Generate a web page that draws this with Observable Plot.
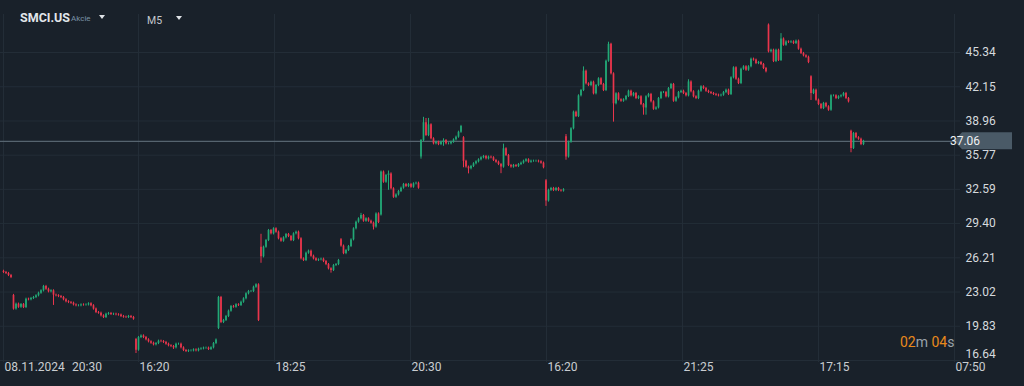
<!DOCTYPE html>
<html><head><meta charset="utf-8">
<script src="https://cdn.jsdelivr.net/npm/d3@7"></script>
<script src="https://cdn.jsdelivr.net/npm/@observablehq/plot@0.6"></script>
<style>
html,body{margin:0;padding:0;background:#19212a;}
#wrap{position:relative;width:1024px;height:386px;overflow:hidden;font-family:Roboto,sans-serif;}
#chart svg{display:block}
.ov{position:absolute;white-space:nowrap;line-height:1;}
.tri{position:absolute;width:0;height:0;border-left:3.5px solid transparent;border-right:3.5px solid transparent;border-top:4px solid #dfe3e7;}
</style></head><body>
<div id="wrap"><div id="chart"></div>
<div class="ov" style="left:20px;top:12px;font-weight:700;font-size:12.5px;color:#e2e6ea">SMCI.US</div>
<div class="ov" style="left:71px;top:15px;font-size:8px;color:#7b93a6">Akcie</div>
<div class="tri" style="left:99px;top:15px"></div>
<div class="ov" style="left:147px;top:15.5px;font-size:10.5px;color:#c4c8cc">M5</div>
<div class="tri" style="left:176px;top:15.5px"></div>
<div class="ov" style="left:900px;top:334.5px;font-size:14px;color:#e8891c">02<span style="color:#9aa3ab">m</span> 04<span style="color:#9aa3ab">s</span></div>
</div>
<script>
// closes per trading session (price, USD)
const s1 = [24.84, 24.75, 24.56, 24.37];
const s2 = [21.43, 21.89, 21.6, 21.85, 21.58, 22.35, 22.3, 22.42, 22.51, 22.67, 22.91, 23.13, 23.54, 23.28, 23.04, 23.13, 22.73, 22.67, 22.6, 22.51, 22.3, 22.11, 22.04, 21.98, 21.82, 21.74, 21.74, 21.82, 21.8, 21.82, 21.92, 21.74, 21.43, 21.11, 21.05, 20.8, 20.65, 20.95, 21.02, 20.93, 20.95, 20.9, 20.87, 20.74, 20.68, 20.65, 20.74, 20.65, 20.49];
const s3 = [17.6, 18.78, 18.93, 18.78, 18.57, 18.38, 18.25, 18.1, 18.22, 18.44, 18.4, 18.32, 18.16, 18.01, 17.94, 17.82, 18.16, 18.16, 17.82, 17.57, 17.48, 17.54, 17.54, 17.63, 17.54, 17.69, 17.73, 17.79, 17.79, 17.67, 17.82, 18.22, 18.55];
const s4 = [22.51, 20.18, 20.37, 20.74, 21.24, 21.67, 21.61, 21.83, 21.77, 22.07, 22.39, 22.85, 23.07, 23.07, 23.47, 23.69, 20.37];
const s5 = [26.3, 27.2, 27.82, 28.75, 28.44, 28.91, 28.6, 27.98, 27.76, 28.07, 28.38, 28.19, 27.82, 28.44, 28.6, 27.98, 26.11, 25.96, 26.64, 26.83, 26.36, 26.11, 25.96, 26.02, 26.08, 25.86, 25.58, 25.18, 25.03, 25.49, 25.58, 25.96];
const s6 = [27.3, 26.6, 26.89, 27.26, 27.88, 28.91, 29.53, 29.84, 30.15, 29.62, 29.84, 29.62, 29.44, 29.07, 30.3, 29.5];
const s7 = [34.2, 33.25, 33.88, 34.03, 32.64, 31.85, 32.07, 32.39, 32.7, 33.04, 32.85, 33.04, 32.79, 33.1, 33.16, 32.7];
const s8 = [37.13, 38.8, 37.6, 38.6, 37.3, 36.83, 36.98, 36.76, 36.98, 37.13, 36.83, 36.83, 36.98, 37.2, 37.45, 37.91, 38.45];
const s9 = [35.2, 34.66, 34.5, 34.72, 34.97, 35.15, 35.34, 35.53, 35.65, 35.43, 35.59, 35.53, 35.28, 35.12, 34.9, 34.66, 36.37, 35.74, 34.81, 34.66, 34.81, 34.72, 34.9, 35.03, 35.21, 35.34, 35.12, 35.21, 35.21, 35.21, 35.15, 35.03, 34.6];
const s10 = [31.5, 32.5, 32.67, 32.48, 32.67, 32.48, 32.43, 32.55];
const s11 = [35.6, 36.98, 38.23, 39.78, 39.38, 41.3, 41.8, 43.6, 42.42, 42.26, 42.57, 41.49, 42.26, 42.89, 42.36, 41.8, 44.53, 46.1, 43.35, 40.56, 41.49, 40.93, 40.8, 40.93, 41.24, 41.73, 41.3, 41.52, 41.05, 41.21, 40.49, 40.18, 41.21, 41.43, 40.74, 40.05, 40.18, 41.05, 41.61, 41.61, 41.21, 41.98, 42.36, 40.8, 41.12, 41.61, 41.73, 41.52, 41.3, 42.6, 41.68, 41.21, 41.05, 41.73, 42.14, 41.98, 41.73, 41.61, 41.52, 41.43, 41.36, 41.3, 41.36, 41.61, 41.83, 41.43, 42.98, 43.91, 42.85, 42.45, 43.78, 44.01, 43.69, 44.01, 44.72, 44.63, 44.31, 44.41, 44.22, 43.85, 43.54];
const s12 = [45.4, 45.55, 44.5, 45.55, 44.6, 46.6, 46.02, 46.33, 46.27, 46.33, 46.18, 46.4, 45.65, 45.25, 45.03, 44.9, 44.4];
const s13 = [41.52, 41.83, 40.9, 40.49, 40.12, 40.59, 40.28, 39.96, 41.3, 41.3, 41.05, 41.21, 41.3, 41.52, 41.05, 40.74];
const s14 = [36.4, 37.79, 37.4, 37.26, 36.76, 37.06];
const sessionOpens = [24.95, 22.7, 18.6, 19.62, 27.2, 27.9, 30.2, 35.6, 37.4, 33.4, 37.5, 47.9, 43.07, 38.0];
// notable wicks: [candle index, high, low]
const spikes = [[20,null,21.77],[53,null,17.29],[68,null,17.67],[103,28.4,25.7],[131,null,24.78],[143,30.35,null],[148,null,28.8],[150,30.4,null],[154,34.3,32.5],[167,null,35.4],[168,39.3,null],[169,39.19,null],[170,39.2,null],[176,37.3,36.6],[184,null,34.6],[186,null,34.03],[199,null,34.05],[200,36.8,null],[217,null,31.0],[225,37.7,35.3],[232,44.0,null],[242,46.3,null],[244,null,38.85],[256,null,39.5],[257,null,39.5],[274,42.8,null],[306,48.0,null],[308,null,44.4],[311,47.1,null],[323,null,40.87],[339,null,36.0]];
const yTicks = [45.34, 42.15, 38.96, 35.77, 32.59, 29.40, 26.21, 23.02, 19.83, 16.64];
const xTickIdx = [0, 27, 54, 108.4, 162.8, 217.2, 271.6, 326, 380.4];
const xTickLabels = ["08.11.2024", "20:30", "16:20", "18:25", "20:30", "16:20", "21:25", "17:15", "07:50"];

const sessions = [s1,s2,s3,s4,s5,s6,s7,s8,s9,s10,s11,s12,s13,s14];
const candles = [];
let idx = 0, prev = null;
sessions.forEach((s, k) => {
  s.forEach((c, j) => {
    const o = j === 0 ? sessionOpens[k] : prev;
    candles.push({i: idx, open: o, close: c, high: Math.max(o, c) + 0.1, low: Math.min(o, c) - 0.1});
    prev = c; idx++;
  });
});
for (const [k, h, l] of spikes) {
  if (h != null) candles[k].high = Math.max(candles[k].high, h);
  if (l != null) candles[k].low = Math.min(candles[k].low, l);
}
const up = candles.filter(d => d.close >= d.open);
const down = candles.filter(d => d.close < d.open);
const green = "#22a876", red = "#e9354c", grid = "#232d37";
const lastClose = candles[candles.length - 1].close;
const gridIdx = xTickIdx.filter((d, k) => k !== 1);
const xEdge = xTickIdx[xTickIdx.length - 1];
const fmt = d3.format(".2f");

const chart = Plot.plot({
  width: 1024, height: 386,
  marginLeft: 0, marginRight: 70, marginTop: 0, marginBottom: 0,
  style: {background: "transparent", color: "#d3d7db", fontFamily: "Roboto, sans-serif", fontSize: "12px"},
  x: {type: "linear", domain: [-1.2, xEdge], axis: null},
  y: {domain: [14.2175, 50.1855], axis: null},
  marks: [
    Plot.ruleY(yTicks, {stroke: grid, insetRight: -6}),
    Plot.ruleX(gridIdx, {stroke: grid, insetTop: 14, insetBottom: 24}),
    Plot.ruleY([lastClose], {stroke: "#56646f", strokeWidth: 1.3}),
    Plot.ruleX(up, {x: "i", y1: "low", y2: "high", stroke: green, strokeWidth: 1}),
    Plot.ruleX(down, {x: "i", y1: "low", y2: "high", stroke: red, strokeWidth: 1}),
    Plot.ruleX(up, {x: "i", y1: "open", y2: "close", stroke: green, strokeWidth: 1.7}),
    Plot.ruleX(down, {x: "i", y1: "open", y2: "close", stroke: red, strokeWidth: 1.7}),
    Plot.text(yTicks.slice(0, -1), {x: () => xEdge, y: d => d, text: d => fmt(d), dx: 11, textAnchor: "start", fill: "#d6dade", fontSize: 12}),
    Plot.text(yTicks.slice(-1), {x: () => xEdge, y: d => d, text: d => fmt(d), dx: 11, dy: -6, textAnchor: "start", fill: "#d6dade", fontSize: 12}),
    Plot.text(xTickIdx, {x: d => d, text: (d, k) => xTickLabels[k], frameAnchor: "bottom", dy: -15.5, dx: 1, textAnchor: "start", fill: "#c9cdd1", fontSize: 12})
  ]
});
document.getElementById("chart").append(chart);

// current price tag
const yS = chart.scale("y").apply(lastClose);
const xR = chart.scale("x").apply(xEdge);
const g = d3.select(chart).append("g");
g.append("path")
  .attr("d", `M${xR},${yS} L${xR + 8},${yS - 8.5} L1012,${yS - 8.5} L1012,${yS + 8.5} L${xR + 8},${yS + 8.5} Z`)
  .attr("fill", "#4a5a67");
g.append("text").attr("x", xR + 11).attr("y", yS).attr("dy", "0.35em")
  .attr("fill", "#eef1f3").attr("font-size", 12).attr("font-family", "Roboto, sans-serif")
  .text(fmt(lastClose));
</script>
</body></html>
